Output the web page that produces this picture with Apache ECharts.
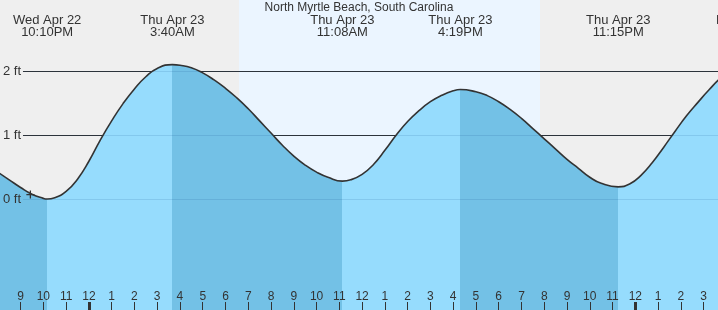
<!DOCTYPE html>
<html><head><meta charset="utf-8">
<script src="https://cdn.jsdelivr.net/npm/echarts@6/dist/echarts.min.js"></script>
<style>html,body{margin:0;padding:0;background:#efefef}#c{width:718px;height:310px}</style>
</head><body><div id="c"></div>
<script>
// ---- data (hours relative to Thu Apr 23 00:00) ----
const chartTitle = 'North Myrtle Beach, South Carolina';
const times = [-4.0,-3.5,-3.0,-2.5,-2.0,-1.833,-1.5,-1.0,-0.5,0.0,0.5,1.0,1.5,2.0,2.5,3.0,3.667,4.0,4.5,5.0,5.5,6.0,6.5,7.0,7.5,8.0,8.5,9.0,9.5,10.0,10.5,11.133,11.5,12.0,12.5,13.0,13.5,14.0,14.5,15.0,15.5,16.0,16.317,17.0,17.5,18.0,18.5,19.0,19.5,20.0,20.5,21.0,21.5,22.0,22.5,23.25,23.75,24.25,24.75,25.25,25.75,26.25,26.75,27.25,27.75,28.25];
const heights = [0.42,0.30,0.18,0.075,0.01,0.00,0.02,0.12,0.31,0.59,0.92,1.22,1.49,1.72,1.91,2.04,2.10,2.09,2.05,1.97,1.86,1.73,1.58,1.41,1.22,1.03,0.84,0.67,0.53,0.42,0.34,0.28,0.30,0.385,0.54,0.76,1.00,1.21,1.38,1.52,1.62,1.69,1.71,1.675,1.615,1.52,1.40,1.26,1.10,0.94,0.78,0.62,0.48,0.34,0.245,0.19,0.235,0.37,0.57,0.81,1.06,1.30,1.51,1.71,1.89,2.02];
const eventTimes = [-1.833, 3.667, 11.133, 16.317, 23.25, 28.8];
const eventTypes = ['low','high','low','high','low','high'];
const eventLabels = ['Wed Apr 22\n10:10PM','Thu Apr 23\n3:40AM','Thu Apr 23\n11:08AM','Thu Apr 23\n4:19PM','Thu Apr 23\n11:15PM','Fri Apr 24\n4:48AM'];
const daylight = [[6.58, 19.82]];
const tickHours = [-3,-2,-1,0,1,2,3,4,5,6,7,8,9,10,11,12,13,14,15,16,17,18,19,20,21,22,23,24,25,26,27];
const tickLabels = ['9','10','11','12','1','2','3','4','5','6','7','8','9','10','11','12','1','2','3','4','5','6','7','8','9','10','11','12','1','2','3'];
const midnightHours = [0, 24];
const levelValues = [0, 1, 2];
const nowPoint = [-2.57, 0.07];

// ---- layout / style ----
const X_MIN = -3.86, X_MAX = 27.632, Y_MIN = -1.734, Y_MAX = 3.109;
const LINE_START = -2.895;
const FONT = "'Liberation Sans', Arial, sans-serif";
const LIGHT = '#96dcfd', DARK = '#73c1e6';

const curve = times.map((t, i) => [t, heights[i]]);
const pieces = [];
eventTimes.forEach((t, i) => {
  const color = eventTypes[i] === 'low' ? DARK : LIGHT;
  if (i === 0) pieces.push({lt: t, color});
  else pieces.push({gte: eventTimes[i - 1], lt: t, color});
});
pieces.push({gte: eventTimes[eventTimes.length - 1], color: eventTypes[eventTypes.length - 1] === 'high' ? DARK : LIGHT});

const labelMap = {};
tickHours.forEach((h, i) => labelMap[h] = tickLabels[i]);

function levelLines(color) {
  return function (params, api) {
    const lvl = levelValues[params.dataIndex];
    const a = api.coord([LINE_START, lvl]);
    const b = api.coord([X_MAX, lvl]);
    const y = Math.round(a[1]) + 0.5;
    return {type: 'line', shape: {x1: a[0], y1: y, x2: b[0] + 2, y2: y},
      style: {stroke: color, lineWidth: 1}};
  };
}

const chart = echarts.init(document.getElementById('c'));
chart.setOption({
  animation: false,
  backgroundColor: '#efefef',
  title: {text: chartTitle, left: 'center', top: 2, padding: 0,
    textStyle: {fontSize: 12, fontWeight: 'normal', color: '#333', fontFamily: FONT}},
  grid: {left: 0, right: 0, top: 0, bottom: 0, containLabel: false},
  xAxis: [{
    type: 'value', min: X_MIN, max: X_MAX, z: 10, position: 'bottom',
    axisLine: {show: false, onZero: false}, splitLine: {show: false},
    axisTick: {show: true, inside: true, length: 8, customValues: tickHours, lineStyle: {color: '#333', width: 1}},
    axisLabel: {show: true, inside: true, margin: 7, customValues: tickHours, color: '#333', fontSize: 12, fontFamily: FONT,
      formatter: v => labelMap[Math.round(v)]}
  }, {
    type: 'value', min: X_MIN, max: X_MAX, z: 11, position: 'bottom',
    axisLine: {show: false, onZero: false}, splitLine: {show: false}, axisLabel: {show: false},
    axisTick: {show: true, inside: true, length: 8, customValues: midnightHours, lineStyle: {color: '#333', width: 3}}
  }],
  yAxis: {
    type: 'value', min: Y_MIN, max: Y_MAX, z: 10,
    axisLine: {show: false, onZero: false}, axisTick: {show: false}, splitLine: {show: false},
    axisLabel: {inside: true, margin: 2, customValues: levelValues, color: '#333', fontSize: 13, fontFamily: FONT,
      formatter: v => Math.round(v) + ' ft'}
  },
  visualMap: {type: 'piecewise', show: false, dimension: 0, seriesIndex: 2, pieces: pieces},
  series: [
    {type: 'custom', z: 0, silent: true, clip: false, data: daylight,
      renderItem: (params, api) => {
        const a = api.coord([api.value(0), Y_MAX]);
        const b = api.coord([api.value(1), Y_MIN]);
        return {type: 'rect', shape: {x: Math.round(a[0]), y: a[1], width: Math.round(b[0]) - Math.round(a[0]), height: b[1] - a[1]},
          style: {fill: '#ebf5ff'}};
      }},
    {type: 'custom', z: 1, silent: true, data: levelValues.map(v => [0, v]), renderItem: levelLines('#333')},
    {type: 'line', z: 2, data: curve, smooth: 0.5, symbol: 'none', silent: true,
      lineStyle: {width: 0, opacity: 0},
      areaStyle: {opacity: 1, origin: 'start'}},
    {type: 'custom', z: 3, silent: true, data: levelValues.map(v => [0, v]), renderItem: levelLines('rgba(0,60,120,0.12)')},
    {type: 'line', z: 4, data: curve, smooth: 0.5, symbol: 'none', silent: true,
      lineStyle: {width: 1.6, color: '#333'}},
    {type: 'scatter', z: 5, data: [nowPoint], silent: true,
      symbol: 'path://M0,4.2H10V5.8H0Z M4.2,0H5.8V10H4.2Z', symbolSize: 8, itemStyle: {color: '#333', opacity: 1}},
    {type: 'custom', z: 6, silent: true, clip: false, data: eventTimes.map(t => [t, 0]),
      renderItem: (params, api) => {
        const p = api.coord([api.value(0), 0]);
        return {type: 'text', x: p[0], y: 14,
          style: {text: eventLabels[params.dataIndex], fill: '#333', font: '13px ' + FONT,
            align: 'center', verticalAlign: 'top', lineHeight: 12}};
      }}
  ]
});
</script></body></html>
